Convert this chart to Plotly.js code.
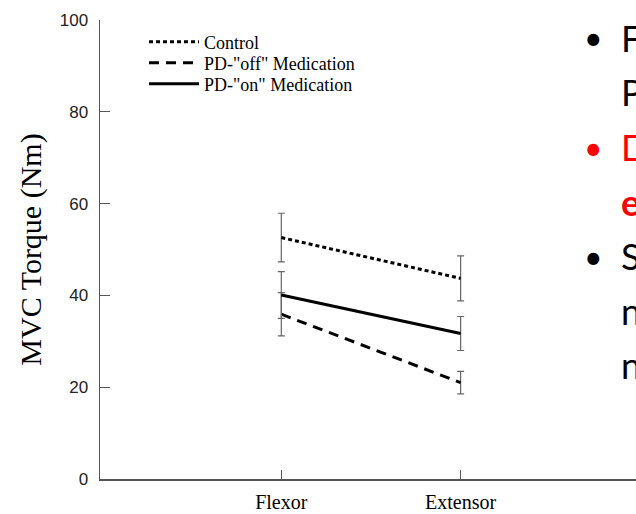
<!DOCTYPE html>
<html>
<head>
<meta charset="utf-8">
<script src="https://cdn.plot.ly/plotly-3.0.1.min.js"></script>
<style>html,body{margin:0;padding:0;background:#fff;}#chart{width:636px;height:514px;}</style>
</head>
<body>
<div id="chart"></div>
<script>
const categories = ['Flexor', 'Extensor'];
const seriesNames = ['Control', 'PD-"off" Medication', 'PD-"on" Medication'];
const controlValues = [52.6, 43.7];
const controlErrors = [5.3, 4.9];
const pdOffValues = [35.9, 21.0];
const pdOffErrors = [4.7, 2.45];
const pdOnValues = [40.1, 31.7];
const pdOnErrors = [5.1, 3.7];
const yTickValues = [0, 20, 40, 60, 80, 100];
const sideLines = [
  {bullet: true, text: 'F', color: '#000000', bold: false},
  {bullet: false, text: 'P', color: '#000000', bold: false},
  {bullet: true, text: 'D', color: '#ff0000', bold: false},
  {bullet: false, text: 'e', color: '#ff0000', bold: true},
  {bullet: true, text: 'S', color: '#000000', bold: false},
  {bullet: false, text: 'n', color: '#000000', bold: false},
  {bullet: false, text: 'n', color: '#000000', bold: false}
];

const W = 636, H = 514, L = 100, R = 0, T = 20, B = 35;
const pw = W - L - R, ph = H - T - B;
const px2x = p => (p - L) / pw;
const px2y = p => (H - B - p) / ph;

function trace(name, vals, errs, dash, legendId) {
  return {
    type: 'scatter', mode: 'lines', name: name,
    x: categories, y: vals,
    legend: legendId,
    line: {color: '#000000', width: 3, dash: dash},
    error_y: {type: 'data', array: errs, visible: true, color: '#666666', thickness: 1.2, width: 3.5}
  };
}

const data = [
  trace(seriesNames[0], controlValues, controlErrors, '4px,3px', 'legend'),
  trace(seriesNames[1], pdOffValues, pdOffErrors, '10px,7px', 'legend2'),
  trace(seriesNames[2], pdOnValues, pdOnErrors, 'solid', 'legend3')
];

const annotations = [];
const sideStart = 38, sideStep = 54.5;
sideLines.forEach((s, i) => {
  const py = sideStart + i * sideStep;
  if (s.bullet) {
    annotations.push({xref: 'paper', yref: 'paper', x: px2x(593), y: px2y(py), xanchor: 'center', yanchor: 'middle',
      text: '•', showarrow: false, font: {family: 'Lato, "Open Sans", sans-serif', size: 32, color: s.color}});
  }
  annotations.push({xref: 'paper', yref: 'paper', x: px2x(619), y: px2y(py), xanchor: 'left', yanchor: 'middle',
    text: s.bold ? '<b>' + s.text + '</b>' : s.text, showarrow: false,
    font: {family: 'Lato, "Open Sans", sans-serif', size: 36, color: s.color}});
});

function legendAt(py) {
  return {
    x: px2x(144), y: px2y(py), xanchor: 'left', yanchor: 'middle',
    bgcolor: 'rgba(0,0,0,0)', borderwidth: 0,
    font: {family: '"Liberation Serif", "Times New Roman", serif', size: 18, color: '#000000'},
    itemwidth: 50
  };
}

const layout = {
  width: W, height: H,
  margin: {l: L, r: R, t: T, b: B, pad: 0},
  paper_bgcolor: '#ffffff', plot_bgcolor: '#ffffff',
  showlegend: true,
  legend: legendAt(42),
  legend2: legendAt(63),
  legend3: legendAt(84),
  xaxis: {
    type: 'category', range: [-1.011, 1.978],
    showline: true, linecolor: '#555555', linewidth: 1.5,
    ticks: 'inside', ticklen: 9, tickwidth: 1.2, tickcolor: '#555555',
    showgrid: false, zeroline: false, ticklabelstandoff: 4,
    tickfont: {family: '"Liberation Serif", "Times New Roman", serif', size: 20, color: '#000000'}
  },
  yaxis: {
    range: [0, 100], tickvals: yTickValues, ticktext: yTickValues.map(String),
    showline: true, linecolor: '#555555', linewidth: 1.5,
    ticks: 'inside', ticklen: 10, tickwidth: 1.2, tickcolor: '#555555',
    showgrid: false, zeroline: false, ticklabelstandoff: 7,
    tickfont: {family: '"Liberation Sans", Arial, sans-serif', size: 17, color: '#222222'},
    title: {text: 'MVC Torque (Nm)', standoff: 9,
      font: {family: '"Liberation Serif", "Times New Roman", serif', size: 30, color: '#000000'}}
  },
  annotations: annotations
};

Plotly.newPlot('chart', data, layout, {displayModeBar: false, staticPlot: true});
</script>
</body>
</html>
